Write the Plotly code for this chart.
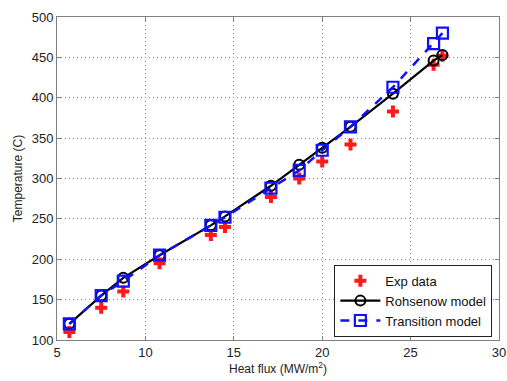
import plotly.graph_objects as go

# Heat flux (MW/m^2) at each measurement point
heat_flux = [5.7, 7.5, 8.75, 10.8, 13.7, 14.5, 17.1, 18.7, 20.0, 21.6, 24.0, 26.3, 26.8]

# Temperatures (C)
exp_data = [110, 140, 160, 195, 230, 240, 277, 300, 321, 342, 383, 441, 452]
rohsenow = [120, 155, 177, 205, 242, 253, 291, 317, 338, 364, 405, 446, 453]
transition = [120, 155, 173, 205, 242, 252, 288, 310, 335, 364, 413, 467, 480]

x_ticks = [5, 10, 15, 20, 25, 30]
y_ticks = [100, 150, 200, 250, 300, 350, 400, 450, 500]

FONT = "Liberation Sans, Arial, sans-serif"

fig = go.Figure()

fig.add_trace(go.Scatter(
    x=heat_flux, y=exp_data, mode="markers", name="Exp data",
    marker=dict(symbol="cross", size=10, color="#ff1a1a", line=dict(width=0)),
))
fig.add_trace(go.Scatter(
    x=heat_flux, y=rohsenow, mode="lines+markers", name="Rohsenow model",
    line=dict(color="black", width=2.2),
    marker=dict(symbol="circle-open", size=10, color="black", line=dict(width=2)),
))
fig.add_trace(go.Scatter(
    x=heat_flux, y=transition, mode="lines+markers", name="Transition model",
    line=dict(color="#1010ff", width=2.5, dash="dash"),
    marker=dict(symbol="square-open", size=11, color="#1010ff", line=dict(width=2.2)),
))

axis_common = dict(
    showline=True, linecolor="#808080", linewidth=1, mirror="ticks",
    ticks="inside", ticklen=4, tickcolor="#808080",
    showgrid=True, gridcolor="#8a8a8a", griddash="1px,3px", gridwidth=1,
    zeroline=False, automargin=False,
    tickfont=dict(family=FONT, size=13, color="#222222"),
)

fig.update_xaxes(
    range=[5, 30], tickvals=x_ticks,
    title=dict(text="Heat flux (MW/m<sup>2</sup>)", font=dict(family=FONT, size=12, color="#222222"), standoff=4),
    **axis_common,
)
fig.update_yaxes(
    range=[100, 500], tickvals=y_ticks,
    title=dict(text="Temperature (C)", font=dict(family=FONT, size=12, color="#222222"), standoff=6),
    **axis_common,
)

fig.update_layout(
    width=507, height=381,
    margin=dict(l=57, r=8, t=17, b=41),
    paper_bgcolor="white", plot_bgcolor="white",
    showlegend=True,
    legend=dict(
        x=0.985, y=0.01, xanchor="right", yanchor="bottom",
        bgcolor="white", bordercolor="#222222", borderwidth=1,
        font=dict(family=FONT, size=13, color="#111111"),
        tracegroupgap=0, itemwidth=40,
    ),
)

fig.write_html("out.html")
